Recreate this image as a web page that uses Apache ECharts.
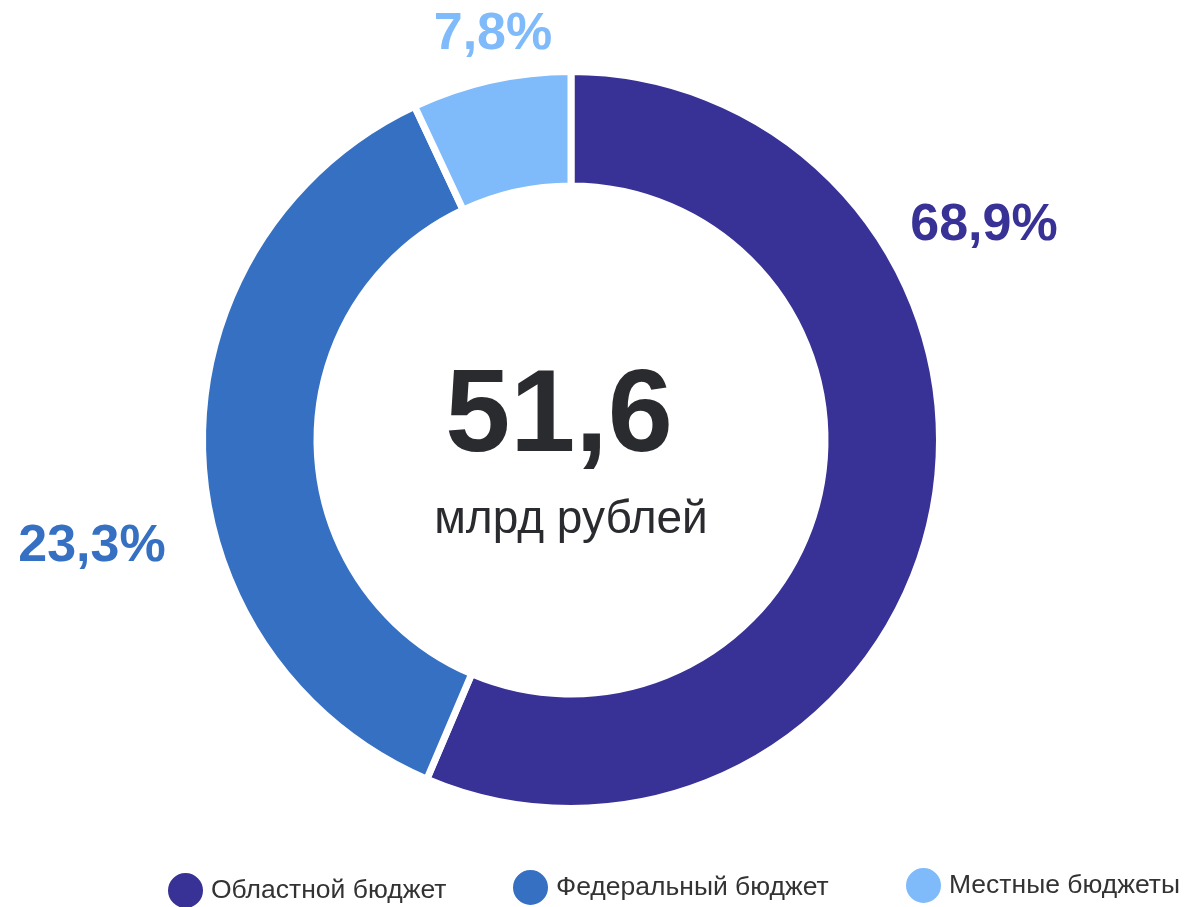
<!DOCTYPE html>
<html>
<head>
<meta charset="utf-8">
<script src="https://cdn.jsdelivr.net/npm/echarts@6/dist/echarts.min.js"></script>
<style>
  html, body { margin: 0; padding: 0; background: #fff; }
  #chart { width: 1191px; height: 907px; }
</style>
</head>
<body>
<div id="chart"></div>
<script>
// данные
const categories = ["Областной бюджет", "Федеральный бюджет", "Местные бюджеты"];
const values = [29.1, 18.9, 3.6]; // млрд рублей, размер секторов
const shareLabels = ["68,9%", "23,3%", "7,8%"]; // подписи как на картинке
const totalText = "51,6";
const unitText = "млрд рублей";

const colors = ["#383296", "#3570c3", "#7fbafa"];
const font = "'Liberation Sans', Arial, sans-serif";
// положение подписей (центр текста)
const labelPos = [
  [984, 226],
  [92, 547],
  [493, 35],
];
const legendPos = [
  [166, 871],
  [511, 868],
  [904, 866],
];

const chart = echarts.init(document.getElementById("chart"));

const option = {
  animation: false,
  color: colors,
  legend: categories.map((name, i) => ({
    data: [name],
    left: legendPos[i][0],
    top: legendPos[i][1],
    padding: 0,
    icon: "circle",
    itemWidth: 37,
    itemHeight: 37,
    textStyle: {
      fontFamily: font,
      fontSize: 26.5,
      color: "#333",
      padding: [0, 0, 0, 2],
    },
  })),
  graphic: [
    {
      type: "text",
      x: 559,
      y: 419,
      style: {
        text: totalText,
        fontFamily: font,
        fontWeight: "bold",
        fontSize: 117,
        fill: "#2a2b2f",
        textAlign: "center",
        textVerticalAlign: "middle",
      },
    },
    {
      type: "text",
      x: 571,
      y: 520,
      style: {
        text: unitText,
        fontFamily: font,
        fontSize: 46,
        fill: "#2a2b2f",
        textAlign: "center",
        textVerticalAlign: "middle",
      },
    },
  ],
  series: [
    {
      type: "pie",
      center: [571, 440],
      radius: [254, 368.5],
      startAngle: 90,
      clockwise: true,
      itemStyle: { borderColor: "#fff", borderWidth: 7 },
      label: {
        show: true,
        position: "outside",
        formatter: (p) => shareLabels[p.dataIndex],
        fontFamily: font,
        fontWeight: "bold",
        fontSize: 52,
        overflow: "none",
        width: 300,
      },
      labelLine: { show: false },
      labelLayout: (params) => ({
        x: labelPos[params.dataIndex][0],
        y: labelPos[params.dataIndex][1],
        align: "center",
        verticalAlign: "middle",
      }),
      emphasis: { disabled: true },
      data: categories.map((name, i) => ({
        name: name,
        value: values[i],
        label: { color: colors[i] },
      })),
    },
  ],
};

chart.setOption(option);
</script>
</body>
</html>
